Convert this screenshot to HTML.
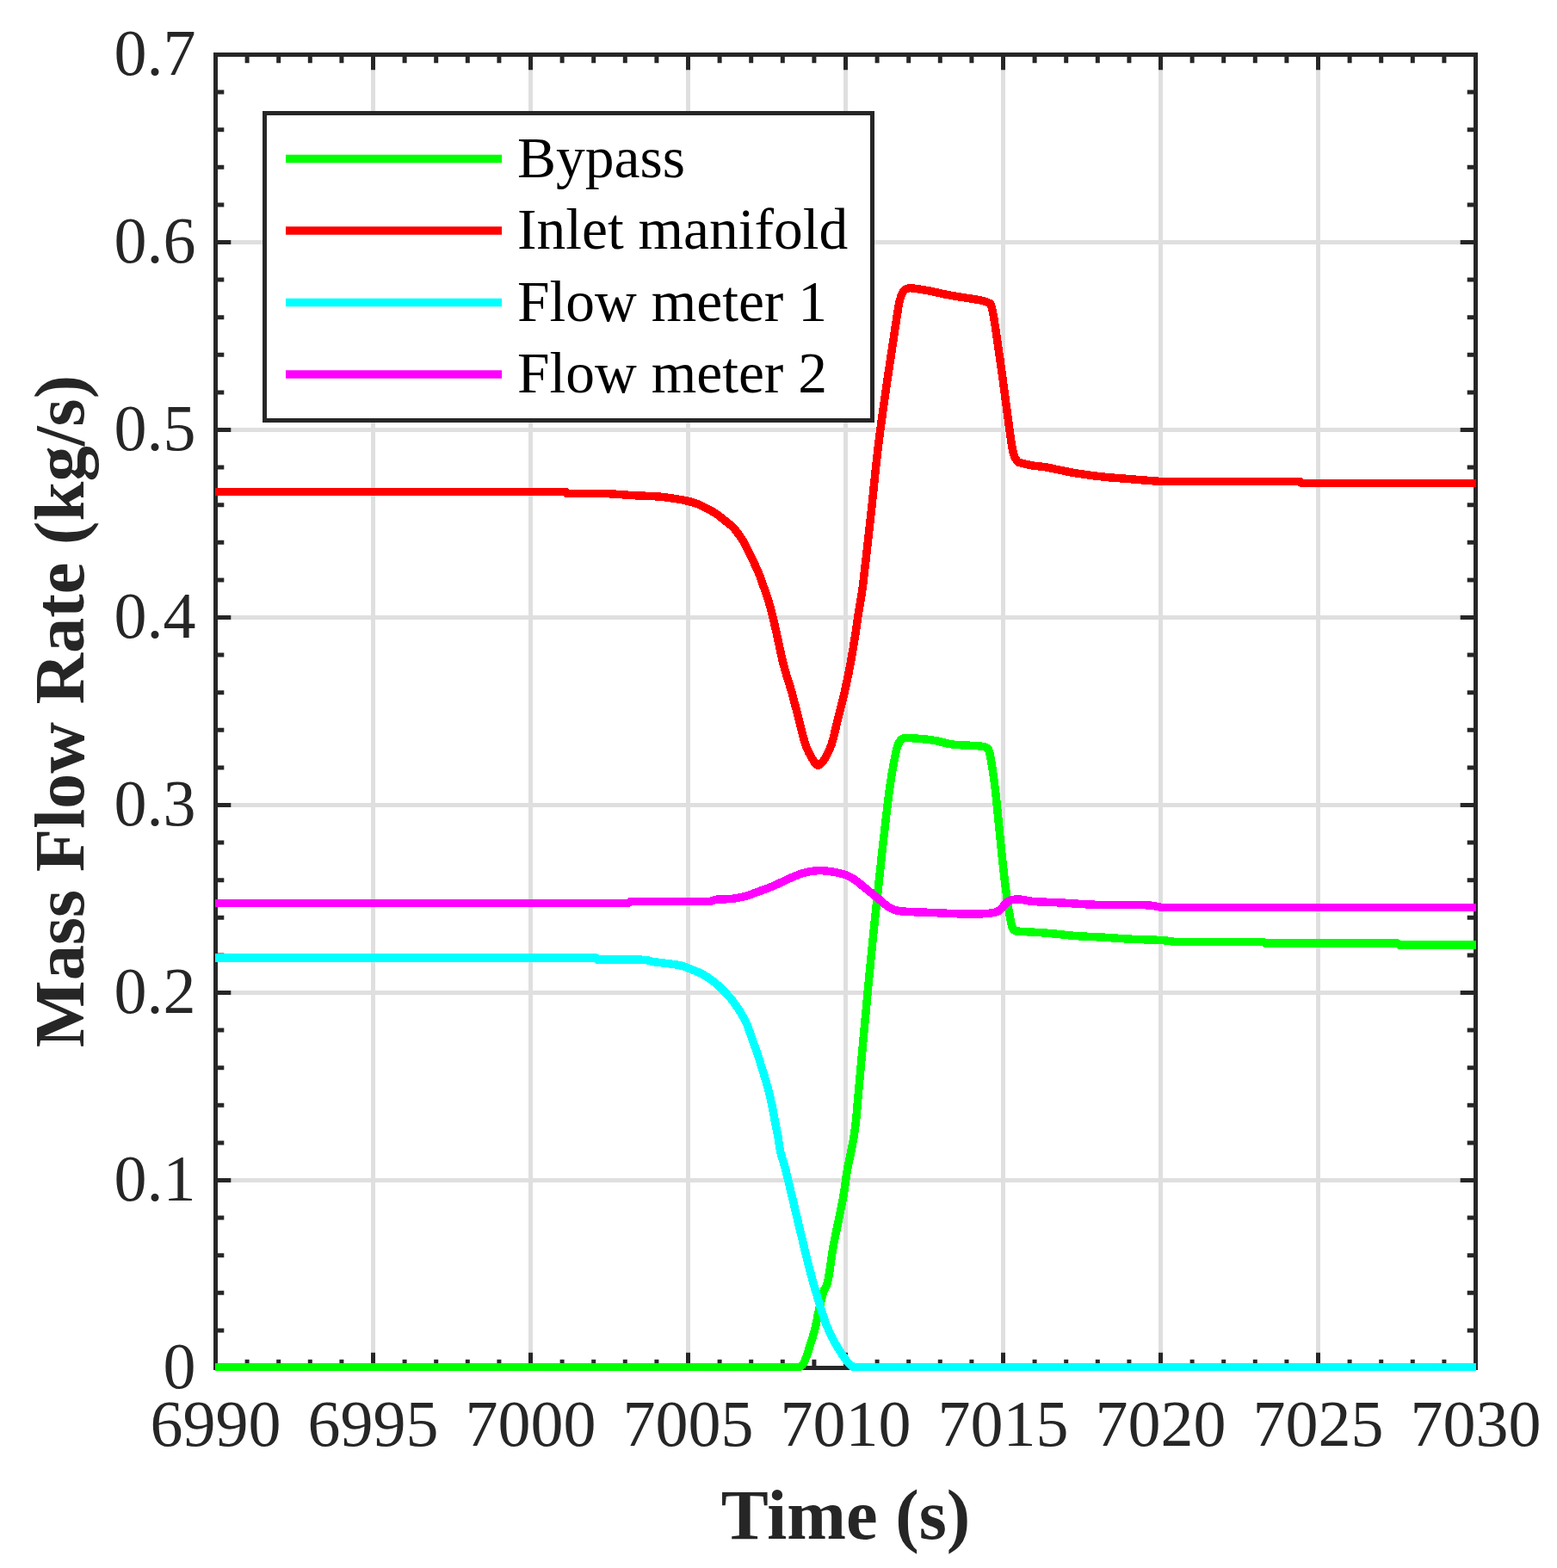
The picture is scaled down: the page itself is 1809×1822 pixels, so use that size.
<!DOCTYPE html>
<html><head><meta charset="utf-8"><title>Mass Flow Rate</title>
<style>html,body{margin:0;padding:0;background:#fff;}svg{display:block;}</style></head>
<body><svg width="1809" height="1822" viewBox="0 0 1809 1822"><path d="M433.5 63.5V1589.5 M616.5 63.5V1589.5 M799.5 63.5V1589.5 M982.5 63.5V1589.5 M1165.5 63.5V1589.5 M1348.5 63.5V1589.5 M1531.5 63.5V1589.5 M250.5 1371.5H1714.5 M250.5 1153.5H1714.5 M250.5 935.5H1714.5 M250.5 717.5H1714.5 M250.5 499.5H1714.5 M250.5 281.5H1714.5" stroke="#262626" stroke-opacity="0.15" stroke-width="5" fill="none"/>
<path d="M287.1 1589.5v-7.3M287.1 63.5v7.3 M323.7 1589.5v-7.3M323.7 63.5v7.3 M360.3 1589.5v-7.3M360.3 63.5v7.3 M396.9 1589.5v-7.3M396.9 63.5v7.3 M433.5 1589.5v-15.3M433.5 63.5v15.3 M470.1 1589.5v-7.3M470.1 63.5v7.3 M506.7 1589.5v-7.3M506.7 63.5v7.3 M543.3 1589.5v-7.3M543.3 63.5v7.3 M579.9 1589.5v-7.3M579.9 63.5v7.3 M616.5 1589.5v-15.3M616.5 63.5v15.3 M653.1 1589.5v-7.3M653.1 63.5v7.3 M689.7 1589.5v-7.3M689.7 63.5v7.3 M726.3 1589.5v-7.3M726.3 63.5v7.3 M762.9 1589.5v-7.3M762.9 63.5v7.3 M799.5 1589.5v-15.3M799.5 63.5v15.3 M836.1 1589.5v-7.3M836.1 63.5v7.3 M872.7 1589.5v-7.3M872.7 63.5v7.3 M909.3 1589.5v-7.3M909.3 63.5v7.3 M945.9 1589.5v-7.3M945.9 63.5v7.3 M982.5 1589.5v-15.3M982.5 63.5v15.3 M1019.1 1589.5v-7.3M1019.1 63.5v7.3 M1055.7 1589.5v-7.3M1055.7 63.5v7.3 M1092.3 1589.5v-7.3M1092.3 63.5v7.3 M1128.9 1589.5v-7.3M1128.9 63.5v7.3 M1165.5 1589.5v-15.3M1165.5 63.5v15.3 M1202.1 1589.5v-7.3M1202.1 63.5v7.3 M1238.7 1589.5v-7.3M1238.7 63.5v7.3 M1275.3 1589.5v-7.3M1275.3 63.5v7.3 M1311.9 1589.5v-7.3M1311.9 63.5v7.3 M1348.5 1589.5v-15.3M1348.5 63.5v15.3 M1385.1 1589.5v-7.3M1385.1 63.5v7.3 M1421.7 1589.5v-7.3M1421.7 63.5v7.3 M1458.3 1589.5v-7.3M1458.3 63.5v7.3 M1494.9 1589.5v-7.3M1494.9 63.5v7.3 M1531.5 1589.5v-15.3M1531.5 63.5v15.3 M1568.1 1589.5v-7.3M1568.1 63.5v7.3 M1604.7 1589.5v-7.3M1604.7 63.5v7.3 M1641.3 1589.5v-7.3M1641.3 63.5v7.3 M1677.9 1589.5v-7.3M1677.9 63.5v7.3 M250.5 1545.9h7.3M1714.5 1545.9h-7.3 M250.5 1502.3h7.3M1714.5 1502.3h-7.3 M250.5 1458.7h7.3M1714.5 1458.7h-7.3 M250.5 1415.1h7.3M1714.5 1415.1h-7.3 M250.5 1371.5h15.3M1714.5 1371.5h-15.3 M250.5 1327.9h7.3M1714.5 1327.9h-7.3 M250.5 1284.3h7.3M1714.5 1284.3h-7.3 M250.5 1240.7h7.3M1714.5 1240.7h-7.3 M250.5 1197.1h7.3M1714.5 1197.1h-7.3 M250.5 1153.5h15.3M1714.5 1153.5h-15.3 M250.5 1109.9h7.3M1714.5 1109.9h-7.3 M250.5 1066.3h7.3M1714.5 1066.3h-7.3 M250.5 1022.7h7.3M1714.5 1022.7h-7.3 M250.5 979.1h7.3M1714.5 979.1h-7.3 M250.5 935.5h15.3M1714.5 935.5h-15.3 M250.5 891.9h7.3M1714.5 891.9h-7.3 M250.5 848.3h7.3M1714.5 848.3h-7.3 M250.5 804.7h7.3M1714.5 804.7h-7.3 M250.5 761.1h7.3M1714.5 761.1h-7.3 M250.5 717.5h15.3M1714.5 717.5h-15.3 M250.5 673.9h7.3M1714.5 673.9h-7.3 M250.5 630.3h7.3M1714.5 630.3h-7.3 M250.5 586.7h7.3M1714.5 586.7h-7.3 M250.5 543.1h7.3M1714.5 543.1h-7.3 M250.5 499.5h15.3M1714.5 499.5h-15.3 M250.5 455.9h7.3M1714.5 455.9h-7.3 M250.5 412.3h7.3M1714.5 412.3h-7.3 M250.5 368.7h7.3M1714.5 368.7h-7.3 M250.5 325.1h7.3M1714.5 325.1h-7.3 M250.5 281.5h15.3M1714.5 281.5h-15.3 M250.5 237.9h7.3M1714.5 237.9h-7.3 M250.5 194.3h7.3M1714.5 194.3h-7.3 M250.5 150.7h7.3M1714.5 150.7h-7.3 M250.5 107.1h7.3M1714.5 107.1h-7.3" stroke="#262626" stroke-width="5" stroke-linecap="square" fill="none"/>
<rect x="250.5" y="63.5" width="1464.0" height="1526.0" stroke="#262626" stroke-width="5" fill="none" stroke-linecap="square"/>
<g font-family="Liberation Serif, serif" font-size="76" fill="#262626"><text x="250.5" y="1680.4" text-anchor="middle">6990</text><text x="433.5" y="1680.4" text-anchor="middle">6995</text><text x="616.5" y="1680.4" text-anchor="middle">7000</text><text x="799.5" y="1680.4" text-anchor="middle">7005</text><text x="982.5" y="1680.4" text-anchor="middle">7010</text><text x="1165.5" y="1680.4" text-anchor="middle">7015</text><text x="1348.5" y="1680.4" text-anchor="middle">7020</text><text x="1531.5" y="1680.4" text-anchor="middle">7025</text><text x="1714.5" y="1680.4" text-anchor="middle">7030</text><text x="227.5" y="1612.7" text-anchor="end">0</text><text x="227.5" y="1394.7" text-anchor="end">0.1</text><text x="227.5" y="1176.7" text-anchor="end">0.2</text><text x="227.5" y="958.7" text-anchor="end">0.3</text><text x="227.5" y="740.7" text-anchor="end">0.4</text><text x="227.5" y="522.7" text-anchor="end">0.5</text><text x="227.5" y="304.7" text-anchor="end">0.6</text><text x="227.5" y="86.7" text-anchor="end">0.7</text></g>
<text x="982.5" y="1788" text-anchor="middle" font-family="Liberation Serif, serif" font-weight="bold" font-size="82.5" fill="#262626">Time (s)</text>
<text transform="translate(97 826.5) rotate(-90)" text-anchor="middle" font-family="Liberation Serif, serif" font-weight="bold" font-size="82.5" fill="#262626">Mass Flow Rate (kg/s)</text>
<path d="M250.0 1588.5 C363.2 1588.5 815.8 1588.5 929.0 1588.5 C929.8 1587.8 932.2 1587.6 934.0 1584.0 C935.8 1580.4 937.9 1573.5 940.0 1567.0 C942.1 1560.5 944.8 1552.2 946.7 1544.8 C948.6 1537.4 949.7 1530.0 951.4 1522.6 C953.1 1515.2 955.5 1505.3 957.0 1500.4 C958.5 1495.5 959.6 1496.7 960.7 1493.0 C961.8 1489.3 962.5 1485.5 963.7 1478.1 C964.9 1470.7 966.4 1458.4 968.1 1448.5 C969.8 1438.6 972.1 1428.8 974.1 1418.9 C976.1 1409.0 978.3 1399.2 980.0 1389.3 C981.7 1379.4 982.7 1369.5 984.4 1359.6 C986.1 1349.7 988.7 1339.9 990.4 1330.0 C992.1 1320.1 992.6 1320.2 994.7 1300.0 C996.8 1279.8 999.9 1241.7 1002.9 1208.9 C1005.9 1176.2 1009.4 1138.6 1012.9 1103.5 C1016.4 1068.4 1020.6 1028.8 1024.0 998.1 C1027.4 967.4 1030.6 938.8 1033.2 919.0 C1035.8 899.2 1038.0 888.7 1039.8 879.5 C1041.6 870.3 1042.5 867.6 1044.0 864.0 C1045.5 860.4 1046.5 859.0 1049.0 858.0 C1051.5 857.0 1052.9 857.3 1059.0 857.7 C1065.1 858.1 1077.5 859.1 1085.4 860.3 C1093.3 861.5 1097.7 863.9 1106.5 865.0 C1115.3 866.1 1131.5 866.2 1138.1 866.9 C1144.7 867.6 1144.0 867.5 1146.0 869.0 C1148.0 870.5 1148.2 867.7 1150.0 876.0 C1151.8 884.3 1154.1 898.6 1156.5 919.0 C1158.9 939.4 1162.1 976.1 1164.5 998.1 C1166.9 1020.1 1169.1 1037.6 1171.0 1050.8 C1172.9 1064.0 1174.5 1071.8 1176.0 1077.0 C1177.5 1082.2 1179.3 1081.2 1180.0 1082.0 C1186.0 1082.4 1204.7 1083.3 1216.3 1084.2 C1227.9 1085.1 1238.4 1086.7 1249.5 1087.5 C1260.6 1088.3 1271.7 1088.6 1282.7 1089.2 C1293.8 1089.8 1304.8 1090.8 1315.8 1091.3 C1326.8 1091.8 1340.7 1092.0 1349.0 1092.5 C1357.3 1093.0 1362.8 1094.2 1365.6 1094.5 C1382.6 1094.5 1450.9 1094.5 1467.9 1094.5 C1468.2 1094.8 1469.7 1095.8 1470.0 1096.1 C1495.7 1096.1 1598.5 1096.1 1624.2 1096.1 C1624.5 1096.4 1625.7 1097.8 1626.0 1098.1 C1640.8 1098.1 1700.2 1098.1 1715.0 1098.1" stroke="#00ff00" stroke-width="9.5" fill="none" stroke-linejoin="round" shape-rendering="crispEdges"/>
<path d="M250.0 571.5 C317.9 571.5 589.8 571.5 657.7 571.5 C657.9 571.8 658.8 573.2 659.0 573.5 C665.8 573.5 687.1 573.0 700.0 573.4 C712.9 573.8 725.5 575.1 736.5 575.7 C747.5 576.3 757.1 576.3 766.0 577.1 C774.9 577.9 784.5 579.5 790.0 580.4 C795.5 581.2 795.8 581.5 798.8 582.2 C801.8 582.9 804.8 583.6 807.7 584.6 C810.7 585.6 813.5 587.0 816.5 588.4 C819.5 589.8 822.4 591.2 825.4 592.9 C828.4 594.6 831.2 596.4 834.2 598.5 C837.2 600.6 840.2 603.2 843.1 605.6 C846.0 608.0 849.5 610.5 851.9 612.9 C854.3 615.3 855.4 617.1 857.4 619.9 C859.4 622.7 862.2 626.5 864.1 629.8 C866.0 633.1 867.4 636.3 869.0 639.6 C870.6 642.9 872.4 646.2 874.0 649.5 C875.6 652.8 877.1 656.1 878.6 659.4 C880.1 662.7 881.5 666.0 882.8 669.3 C884.1 672.6 885.1 675.8 886.3 679.1 C887.5 682.4 888.7 685.7 889.8 689.0 C890.9 692.3 891.8 694.8 893.0 698.9 C894.2 703.0 895.7 708.3 897.0 713.5 C898.3 718.7 899.8 725.0 900.9 729.9 C902.0 734.8 902.2 735.7 903.8 743.0 C905.4 750.3 908.0 763.5 910.7 773.7 C913.4 783.9 917.0 794.1 919.9 804.4 C922.8 814.6 925.2 825.0 927.9 835.2 C930.6 845.5 933.4 858.1 936.1 865.9 C938.8 873.7 941.6 878.1 944.0 882.0 C946.4 885.9 948.4 889.5 950.7 889.5 C953.0 889.5 955.5 885.9 958.0 882.0 C960.5 878.1 963.2 873.7 965.8 865.9 C968.4 858.1 971.0 845.5 973.6 835.2 C976.2 825.0 978.9 814.6 981.2 804.4 C983.5 794.1 985.7 783.9 987.6 773.7 C989.5 763.5 991.4 752.5 992.9 743.0 C994.4 733.5 995.1 728.0 996.8 716.8 C998.5 705.6 1000.6 695.7 1003.1 675.7 C1005.6 655.7 1009.1 623.1 1012.0 596.7 C1014.9 570.4 1017.3 544.0 1020.5 517.6 C1023.7 491.2 1028.1 461.7 1031.4 438.6 C1034.7 415.6 1038.0 394.1 1040.3 379.3 C1042.6 364.5 1043.6 356.5 1045.2 349.6 C1046.8 342.7 1048.4 340.4 1050.0 338.0 C1051.6 335.6 1053.5 335.5 1055.0 335.0 C1056.5 334.5 1055.0 334.3 1059.0 334.8 C1063.0 335.3 1072.2 336.6 1078.8 337.8 C1085.4 339.0 1092.0 340.8 1098.6 342.1 C1105.2 343.4 1111.7 344.4 1118.3 345.5 C1124.9 346.6 1133.1 347.7 1138.1 348.7 C1143.0 349.7 1145.7 350.4 1148.0 351.6 C1150.3 352.8 1150.6 351.4 1152.0 356.0 C1153.4 360.6 1154.2 365.5 1156.3 379.3 C1158.4 393.1 1162.1 418.8 1164.8 438.6 C1167.5 458.4 1170.6 483.1 1172.7 497.9 C1174.8 512.7 1175.8 520.9 1177.6 527.5 C1179.3 534.1 1182.3 535.7 1183.2 537.3 C1186.0 537.9 1194.3 540.0 1199.8 541.0 C1205.3 542.0 1208.0 541.6 1216.3 543.1 C1224.6 544.6 1238.4 547.9 1249.5 549.8 C1260.6 551.6 1271.7 553.0 1282.7 554.2 C1293.8 555.4 1304.8 556.0 1315.8 556.9 C1326.8 557.8 1343.5 559.1 1349.0 559.5 C1375.9 559.5 1483.5 559.5 1510.4 559.5 C1510.7 559.8 1511.7 561.2 1512.0 561.5 C1545.8 561.5 1681.2 561.5 1715.0 561.5" stroke="#ff0000" stroke-width="9.5" fill="none" stroke-linejoin="round" shape-rendering="crispEdges"/>
<path d="M250.0 1112.9 C323.7 1112.9 618.7 1112.9 692.4 1112.9 C692.7 1113.3 693.7 1114.8 694.0 1115.2 C702.5 1115.2 733.8 1114.8 744.8 1115.2 C755.8 1115.6 753.6 1116.8 760.0 1117.7 C766.4 1118.6 777.5 1119.7 782.9 1120.5 C788.2 1121.3 788.5 1121.2 792.1 1122.3 C795.7 1123.3 800.2 1125.2 804.2 1126.8 C808.2 1128.4 812.2 1129.8 816.2 1132.0 C820.2 1134.2 824.3 1136.8 828.3 1139.9 C832.3 1143.0 836.4 1146.6 840.4 1150.7 C844.4 1154.8 848.3 1158.9 852.5 1164.6 C856.7 1170.3 862.4 1179.5 865.4 1185.0 C868.4 1190.5 868.6 1192.6 870.5 1197.6 C872.4 1202.6 874.7 1209.2 876.7 1215.1 C878.7 1220.9 880.7 1226.8 882.6 1232.7 C884.5 1238.6 886.4 1244.5 888.1 1250.3 C889.9 1256.1 891.6 1261.9 893.1 1267.8 C894.6 1273.7 895.9 1279.5 897.1 1285.4 C898.3 1291.3 899.3 1297.2 900.4 1303.0 C901.5 1308.8 902.8 1314.7 903.9 1320.5 C905.0 1326.3 905.2 1331.6 906.7 1338.1 C908.2 1344.6 910.7 1351.1 912.9 1359.6 C915.1 1368.1 917.6 1379.4 920.0 1389.3 C922.4 1399.2 924.6 1409.0 927.0 1418.9 C929.4 1428.8 931.7 1438.6 934.1 1448.5 C936.5 1458.4 938.9 1468.2 941.5 1478.1 C944.1 1488.0 946.9 1497.9 949.9 1507.8 C952.9 1517.7 956.0 1528.8 959.3 1537.4 C962.6 1546.0 966.4 1553.4 969.6 1559.6 C972.9 1565.8 976.2 1570.5 978.8 1574.4 C981.4 1578.3 983.0 1580.7 985.0 1583.0 C987.0 1585.3 990.0 1587.4 991.0 1588.3 C1111.7 1588.3 1594.3 1588.3 1715.0 1588.3" stroke="#00ffff" stroke-width="9.5" fill="none" stroke-linejoin="round" shape-rendering="crispEdges"/>
<path d="M250.0 1049.6 C330.0 1049.6 649.9 1049.6 729.9 1049.6 C730.4 1049.2 732.5 1047.8 733.0 1047.4 C748.5 1047.4 810.5 1047.4 826.0 1047.4 C827.1 1047.0 828.8 1045.6 832.7 1045.1 C836.6 1044.6 843.8 1045.1 849.3 1044.5 C854.8 1043.9 860.3 1042.9 865.8 1041.4 C871.3 1039.9 876.9 1037.6 882.4 1035.6 C887.9 1033.6 893.5 1031.6 899.0 1029.3 C904.5 1027.0 910.1 1023.9 915.6 1021.5 C921.1 1019.1 926.7 1016.5 932.2 1014.9 C937.7 1013.3 943.3 1012.1 948.8 1011.7 C954.3 1011.3 959.8 1011.9 965.3 1012.7 C970.8 1013.5 977.2 1014.9 981.9 1016.5 C986.5 1018.1 989.1 1019.6 993.2 1022.3 C997.3 1025.0 1002.0 1029.4 1006.4 1032.9 C1010.8 1036.4 1015.1 1039.9 1019.5 1043.4 C1023.9 1046.9 1028.3 1051.5 1032.7 1054.0 C1037.1 1056.5 1037.1 1057.6 1045.9 1058.7 C1054.7 1059.8 1072.2 1060.0 1085.4 1060.6 C1098.6 1061.2 1114.4 1062.0 1124.9 1062.1 C1135.4 1062.2 1142.8 1061.9 1148.6 1061.3 C1154.4 1060.7 1156.2 1060.8 1160.0 1058.5 C1163.8 1056.2 1167.7 1049.7 1171.6 1047.4 C1175.5 1045.1 1178.5 1044.9 1183.2 1044.9 C1187.9 1044.9 1191.5 1046.7 1199.8 1047.4 C1208.1 1048.1 1219.9 1048.3 1232.9 1049.0 C1245.9 1049.7 1261.1 1051.0 1277.7 1051.5 C1294.3 1052.0 1320.5 1051.3 1332.4 1051.8 C1344.3 1052.3 1346.2 1054.0 1349.0 1054.4 C1410.0 1054.4 1654.0 1054.4 1715.0 1054.4" stroke="#ff00ff" stroke-width="9.5" fill="none" stroke-linejoin="round" shape-rendering="crispEdges"/>
<rect x="307.5" y="131.5" width="706.0" height="357.0" fill="#fff" stroke="#262626" stroke-width="5"/><path d="M332 184.5H583" stroke="#00ff00" stroke-width="9.5"/><text x="601" y="205.5" font-family="Liberation Serif, serif" font-size="67.5" fill="#000">Bypass</text><path d="M332 268.0H583" stroke="#ff0000" stroke-width="9.5"/><text x="601" y="289.0" font-family="Liberation Serif, serif" font-size="67.5" fill="#000">Inlet manifold</text><path d="M332 351.5H583" stroke="#00ffff" stroke-width="9.5"/><text x="601" y="372.5" font-family="Liberation Serif, serif" font-size="67.5" fill="#000">Flow meter 1</text><path d="M332 435.0H583" stroke="#ff00ff" stroke-width="9.5"/><text x="601" y="456.0" font-family="Liberation Serif, serif" font-size="67.5" fill="#000">Flow meter 2</text></svg></body></html>
